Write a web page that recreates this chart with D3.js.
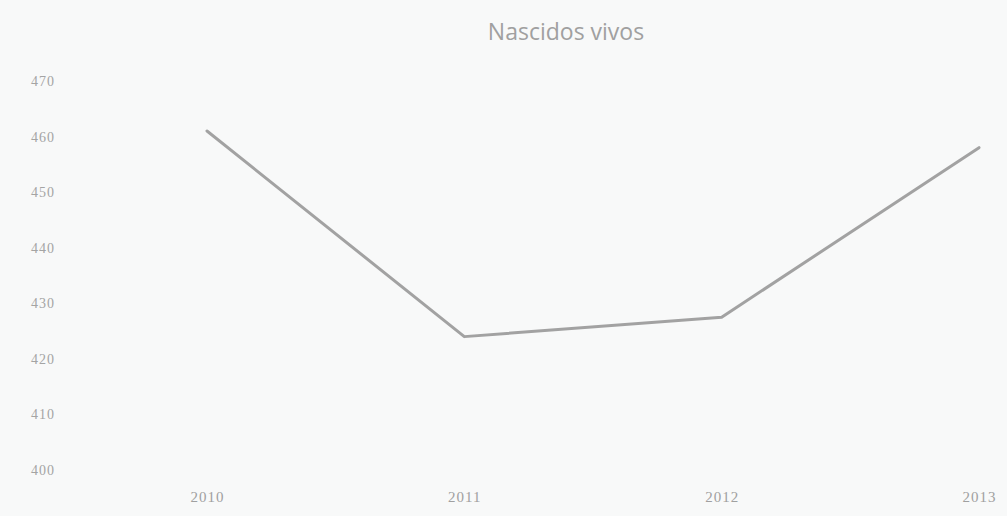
<!DOCTYPE html>
<html>
<head>
<meta charset="utf-8">
<script src="https://cdn.jsdelivr.net/npm/d3@7"></script>
<style>
  html, body { margin: 0; padding: 0; background: #f8f9f9; }
  svg { display: block; }
</style>
</head>
<body>
<svg id="chart" width="1007" height="516"></svg>
<script>
const title = "Nascidos vivos";
const years = ["2010", "2011", "2012", "2013"];
const births = [461, 424, 427.5, 458];
const yTicks = [400, 410, 420, 430, 440, 450, 460, 470];

const svg = d3.select("#chart");
const W = 1007, H = 516;

svg.append("rect").attr("width", W).attr("height", H).attr("fill", "#f8f9f9");

const x = d3.scalePoint().domain(years).range([207, 979]);
const y = d3.scaleLinear().domain([400, 470]).range([470, 81]);

// title
svg.append("text")
  .attr("x", 566).attr("y", 40)
  .attr("text-anchor", "middle")
  .attr("font-family", "'Open Sans', sans-serif")
  .attr("font-size", 23)
  .attr("fill", "#a0a0a0")
  .text(title);

// y axis
const yAxis = d3.axisLeft(y).tickValues(yTicks).tickSize(0).tickPadding(0);
const gy = svg.append("g").attr("transform", "translate(55,0)").call(yAxis);
gy.select(".domain").remove();
gy.selectAll("text")
  .attr("font-family", "'Liberation Serif', serif")
  .attr("font-size", 14)
  .attr("letter-spacing", 1)
  .attr("fill", "#a4a4a4");

// x axis
const xAxis = d3.axisBottom(x).tickSize(0).tickPadding(0);
const gx = svg.append("g").attr("transform", "translate(0,491)").call(xAxis);
gx.select(".domain").remove();
gx.selectAll("text")
  .attr("font-family", "'Liberation Serif', serif")
  .attr("font-size", 15)
  .attr("letter-spacing", 1)
  .attr("fill", "#a0a0a0");

// line
const line = d3.line()
  .x((d, i) => x(years[i]))
  .y(d => y(d));

svg.append("path")
  .datum(births)
  .attr("d", line)
  .attr("fill", "none")
  .attr("stroke", "#a2a2a2")
  .attr("stroke-width", 3)
  .attr("stroke-linejoin", "round")
  .attr("stroke-linecap", "round");
</script>
</body>
</html>
